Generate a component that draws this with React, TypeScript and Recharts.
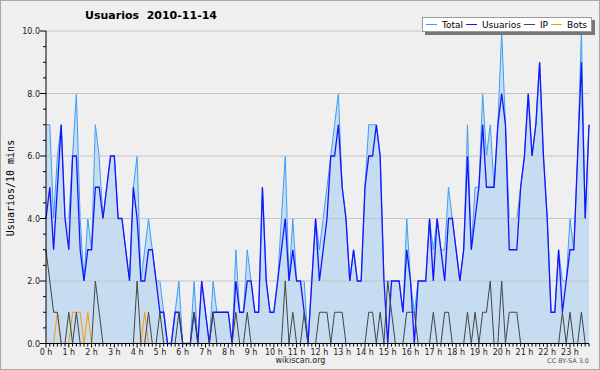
import React from 'react';
import { ComposedChart, Area, Line, XAxis, YAxis, ReferenceLine } from 'recharts';

// valores cada 10 minutos, de 0:00 a 23:50 (144 puntos)
const total = [
  7, 7, 4, 6, 7, 4, 4, 6, 8, 4, 2, 4, 3, 7, 6, 4, 5, 6, 6, 4, 4, 3, 2, 5,
  6, 2, 3, 4, 3, 2, 2, 1, 0, 0, 1, 2, 0, 0, 0, 2, 0, 2, 1, 0, 2, 1, 1, 1,
  1, 0, 3, 1, 1, 3, 2, 1, 1, 5, 2, 1, 1, 2, 4, 6, 2, 4, 2, 2, 2, 0, 2, 4,
  3, 4, 5, 6, 7, 8, 5, 4, 2, 3, 2, 2, 5, 7, 7, 7, 6, 2, 2, 2, 2, 2, 1, 4,
  2, 1, 2, 2, 2, 4, 3, 4, 3, 3, 5, 4, 3, 2, 3, 7, 3, 5, 5, 8, 6, 7, 5, 7,
  10, 7, 4, 4, 4, 5, 6, 8, 6, 7, 9, 6, 4, 1, 1, 3, 2, 2, 4, 3, 6, 10, 4, 7,
];
const usuarios = [
  4, 5, 3, 5, 7, 4, 3, 6, 6, 3, 2, 3, 3, 5, 5, 4, 5, 6, 6, 4, 4, 3, 2, 5,
  4, 2, 2, 3, 3, 2, 1, 1, 0, 0, 1, 1, 0, 0, 0, 1, 0, 2, 1, 0, 1, 1, 1, 1,
  1, 0, 2, 1, 1, 2, 2, 1, 1, 5, 2, 1, 1, 2, 3, 4, 2, 3, 2, 2, 1, 0, 2, 4,
  2, 3, 4, 6, 6, 7, 5, 4, 2, 3, 2, 2, 5, 6, 6, 7, 6, 2, 0, 2, 2, 2, 1, 3,
  2, 0, 2, 2, 2, 4, 2, 4, 3, 2, 4, 4, 3, 2, 3, 6, 3, 4, 5, 7, 5, 5, 5, 7,
  8, 7, 3, 3, 3, 5, 6, 8, 6, 7, 9, 6, 4, 1, 1, 3, 1, 2, 3, 3, 6, 9, 4, 7,
];
const ip = [
  3, 2, 1, 1, 0, 0, 1, 0, 1, 0, 0, 0, 0, 2, 1, 0, 0, 0, 0, 0, 0, 0, 0, 0,
  2, 0, 0, 1, 0, 0, 1, 0, 0, 0, 0, 1, 0, 0, 0, 1, 0, 0, 0, 0, 1, 0, 0, 0,
  0, 0, 1, 0, 0, 1, 0, 0, 0, 0, 0, 0, 0, 0, 0, 2, 0, 1, 0, 0, 1, 0, 0, 0,
  1, 1, 1, 0, 1, 1, 1, 0, 0, 0, 0, 0, 0, 1, 1, 0, 1, 0, 2, 1, 0, 0, 0, 1,
  1, 1, 0, 0, 0, 0, 1, 0, 0, 1, 1, 0, 0, 0, 0, 1, 0, 1, 0, 1, 1, 2, 0, 0,
  2, 0, 1, 1, 1, 0, 0, 0, 0, 0, 0, 0, 0, 0, 0, 0, 1, 0, 1, 0, 0, 1, 0, 0,
];
const bots = [
  0, 0, 0, 1, 0, 0, 0, 1, 1, 1, 0, 1, 0, 0, 0, 0, 0, 0, 0, 0, 0, 0, 0, 0,
  0, 0, 1, 0, 0, 0, 0, 0, 0, 0, 0, 0, 0, 0, 0, 0, 0, 0, 0, 0, 0, 0, 0, 0,
  0, 0, 0, 0, 0, 0, 0, 0, 0, 0, 0, 0, 0, 0, 0, 0, 0, 0, 0, 0, 0, 0, 0, 0,
  0, 0, 0, 0, 0, 0, 0, 0, 0, 0, 0, 0, 0, 0, 0, 0, 0, 0, 0, 0, 0, 0, 0, 0,
  0, 0, 0, 0, 0, 0, 0, 0, 0, 0, 0, 0, 0, 0, 0, 0, 0, 0, 0, 0, 0, 0, 0, 0,
  0, 0, 0, 0, 0, 0, 0, 0, 0, 0, 0, 0, 0, 0, 0, 0, 0, 0, 0, 0, 0, 0, 0, 0,
];

const hourLabels = [
  '0 h', '1 h', '2 h', '3 h', '4 h', '5 h', '6 h', '7 h', '8 h', '9 h', '10 h', '11 h',
  '12 h', '13 h', '14 h', '15 h', '16 h', '17 h', '18 h', '19 h', '20 h', '21 h', '22 h', '23 h',
];
const yTicks = [0, 0.5, 1, 1.5, 2, 2.5, 3, 3.5, 4, 4.5, 5, 5.5, 6, 6.5, 7, 7.5, 8, 8.5, 9, 9.5, 10];
const gridLines = [2, 4, 6, 8, 10];
const xTicks = total.map((_, i) => i);

const data = total.map((t, i) => ({
  i,
  total: t,
  usuarios: usuarios[i],
  ip: ip[i],
  bots: bots[i],
}));

const FONT = '"DejaVu Sans", sans-serif';
const colors = {
  total: '#3d9ef5',
  fill: '#c6ddf1',
  usuarios: '#1414ff',
  ip: '#444444',
  bots: '#ff9a00',
};

const legendItems = [
  { label: 'Total', color: colors.total },
  { label: 'Usuarios', color: colors.usuarios },
  { label: 'IP', color: colors.ip },
  { label: 'Bots', color: colors.bots },
];

// marcas cada 10 min, etiqueta solo en la hora
const XTick = (props: any) => {
  const { x, y, payload } = props;
  const v = payload.value;
  const isHour = v % 6 === 0;
  return (
    <g>
      <line x1={x} x2={x} y1={y} y2={y + (isHour ? 4 : 3)} stroke="#000" />
      {isHour && (
        <text x={x} y={y + 11} textAnchor="middle" fontSize={8} fontFamily={FONT} fill="#222">
          {hourLabels[v / 6]}
        </text>
      )}
    </g>
  );
};

const YTick = (props: any) => {
  const { x, y, payload } = props;
  const v = payload.value;
  const major = v % 2 === 0;
  return (
    <g>
      <line x1={x - (major ? 6 : 3)} x2={x} y1={y} y2={y} stroke="#000" />
      {major && (
        <text x={x - 6} y={y + 3} textAnchor="end" fontSize={8} fontFamily={FONT} fill="#222">
          {v.toFixed(1)}
        </text>
      )}
    </g>
  );
};

const ChartLegend = () => (
  <div
    style={{
      position: 'absolute',
      left: 422,
      top: 17,
      width: 170,
      height: 15,
      boxSizing: 'border-box',
      background: '#fff',
      border: '1px solid #999',
      boxShadow: '3px 3px 0 #777',
      display: 'flex',
      alignItems: 'center',
      paddingLeft: 3,
      fontFamily: FONT,
      fontSize: 9,
      color: '#000',
      whiteSpace: 'nowrap',
    }}
  >
    {legendItems.map((it) => (
      <span key={it.label} style={{ display: 'flex', alignItems: 'center', marginRight: 3 }}>
        <span style={{ display: 'inline-block', width: 11, height: 1, background: it.color, marginRight: 5 }} />
        <span>{it.label}</span>
      </span>
    ))}
  </div>
);

export default function App() {
  return (
    <div
      style={{
        position: 'absolute',
        left: 0,
        top: 0,
        width: 600,
        height: 370,
        background: '#efeff0',
        overflow: 'hidden',
      }}
    >
      <ComposedChart width={600} height={370} data={data} margin={{ top: 31, right: 11, bottom: 0, left: 0 }}>
        <XAxis
          dataKey="i"
          type="number"
          domain={[0, 143]}
          ticks={xTicks}
          interval={0}
          tick={<XTick />}
          tickLine={false}
          tickSize={0}
          tickMargin={0}
          height={26.5}
          axisLine={{ stroke: '#000' }}
        />
        <YAxis
          type="number"
          domain={[0, 10]}
          ticks={yTicks}
          interval={0}
          tick={<YTick />}
          tickLine={false}
          tickSize={0}
          tickMargin={0}
          width={46}
          axisLine={{ stroke: '#000' }}
        />
        <Area
          type="linear"
          dataKey="total"
          stroke={colors.total}
          strokeWidth={1}
          fill={colors.fill}
          fillOpacity={1}
          dot={false}
          activeDot={false}
          isAnimationActive={false}
        />
        {gridLines.map((v) => (
          <ReferenceLine key={v} y={v} stroke="#c4c4c4" strokeWidth={1} />
        ))}
        <Line type="linear" dataKey="usuarios" stroke={colors.usuarios} strokeWidth={1.3} dot={false} activeDot={false} isAnimationActive={false} />
        <Line type="linear" dataKey="bots" stroke={colors.bots} strokeWidth={1} dot={false} activeDot={false} isAnimationActive={false} />
        <Line type="linear" dataKey="ip" stroke={colors.ip} strokeWidth={1} dot={false} activeDot={false} isAnimationActive={false} />
      </ComposedChart>

      <div
        style={{
          position: 'absolute',
          left: 0,
          top: 9,
          width: 302,
          textAlign: 'center',
          fontFamily: FONT,
          fontWeight: 'bold',
          fontSize: 11,
          lineHeight: '14px',
          whiteSpace: 'pre',
          color: '#000',
        }}
      >
        {'Usuarios  2010-11-14'}
      </div>

      <div
        style={{
          position: 'absolute',
          left: 10,
          top: 188,
          transform: 'translate(-50%, -50%) rotate(-90deg)',
          fontFamily: '"DejaVu Sans Mono", monospace',
          fontSize: 10,
          whiteSpace: 'nowrap',
          color: '#000',
        }}
      >
        Usuarios/10 mins
      </div>

      <ChartLegend />

      <div
        style={{
          position: 'absolute',
          left: 250,
          top: 356,
          width: 101,
          textAlign: 'center',
          fontFamily: FONT,
          fontSize: 8,
          lineHeight: '10px',
          color: '#222',
        }}
      >
        wikiscan.org
      </div>
      <div
        style={{
          position: 'absolute',
          right: 11,
          top: 357,
          fontFamily: FONT,
          fontSize: 6.5,
          lineHeight: '9px',
          color: '#555',
        }}
      >
        CC BY-SA 3.0
      </div>

      <div
        style={{
          position: 'absolute',
          left: 0,
          top: 0,
          width: 600,
          height: 370,
          boxSizing: 'border-box',
          border: '1px solid #a8a8a8',
          pointerEvents: 'none',
        }}
      />
    </div>
  );
}
